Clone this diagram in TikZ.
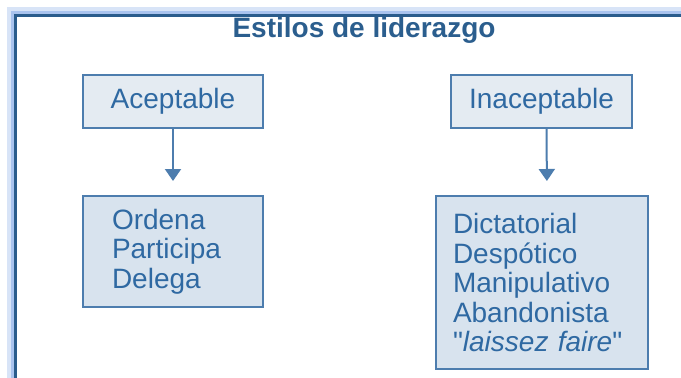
\documentclass[tikz,border=0pt]{standalone}
\usepackage{fontspec}
\setmainfont{Liberation Sans}
\newfontfamily\rawfont{Liberation Sans}
\usepackage{tikz}
\usetikzlibrary{arrows.meta}
\definecolor{framecol}{HTML}{2A5C8C}
\definecolor{glowcol}{HTML}{A9C3EE}
\definecolor{textcol}{HTML}{2F69A2}
\definecolor{titlecol}{HTML}{2B5E8E}
\definecolor{edgecol}{HTML}{4D7DAE}
\definecolor{headfill}{HTML}{E4EBF2}
\definecolor{listfill}{HTML}{D8E3EE}

\begin{document}
\begin{tikzpicture}[x=1pt, y=-1pt,
    headbox/.style={draw=edgecol, line width=2pt, fill=headfill, text=textcol, minimum width=180pt, minimum height=53pt, font=\fontsize{28}{30}\selectfont},
    listbox/.style={draw=edgecol, line width=2pt, fill=listfill, text=textcol, align=left, font=\rawfont\fontsize{28}{29.5}\selectfont},
    arr/.style={draw=edgecol, line width=2pt, -{Triangle[width=16pt, length=12pt]}, shorten >=14pt}]
\useasboundingbox (0, 0) rectangle (681, 378);
\draw[glowcol!45, line width=4pt] (9, 378) -- (9, 9) -- (681, 9);
\draw[glowcol, line width=3pt] (12.5, 378) -- (12.5, 12.5) -- (681, 12.5);
\draw[framecol, line width=3pt] (15.5, 378) -- (15.5, 15.5) -- (681, 15.5);
\node[font=\bfseries\fontsize{28}{30}\selectfont, text=titlecol] (title) at (364, 30) {Estilos de liderazgo};
\node[headbox] (acc) at (173, 101) {Aceptable};
\node[headbox, minimum width=181pt] (inacc) at (541.5, 101) {Inaceptable};
\node[listbox, text width=122pt, inner xsep=29pt, minimum height=111pt] (good) at (173, 251.5) {Ordena\\Participa\\Delega};
\node[listbox, text width=178pt, inner xsep=17pt, minimum height=173pt] (bad) at (542, 282.5) {Dictatorial\\Despótico\\Manipulativo\\Abandonista\\"\textit{laissez faire}"};
\draw[arr] (acc) -- (good);
\draw[arr] ([xshift=5pt]inacc.south) -- ([xshift=5pt]bad.north);
\end{tikzpicture}
\end{document}
